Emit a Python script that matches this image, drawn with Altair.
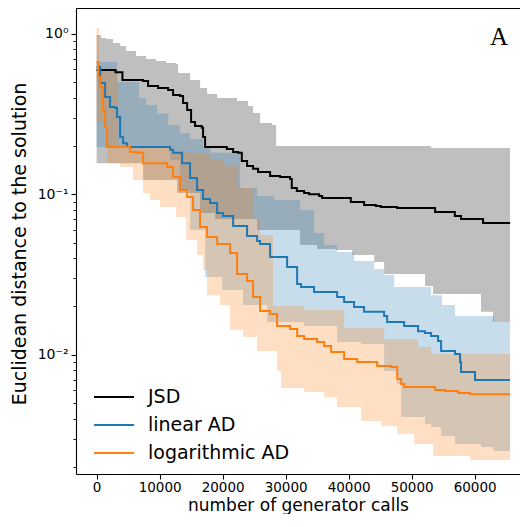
import altair as alt
import pandas as pd

METHODS = ["JSD", "linear AD", "logarithmic AD"]
LINE_COLORS = ["#000000", "#1f77b4", "#ff7f0e"]
BAND_COLORS = ["#808080", "#1f77b4", "#ff7f0e"]
BAND_OPACITY = [0.5, 0.25, 0.25]

X_TICKS = [0, 10000, 20000, 30000, 40000, 50000, 60000]
Y_MAJOR = [0.01, 0.1, 1]
Y_MINOR = [0.002, 0.003, 0.004, 0.005, 0.006, 0.007, 0.008, 0.009,
           0.02, 0.03, 0.04, 0.05, 0.06, 0.07, 0.08, 0.09,
           0.2, 0.3, 0.4, 0.5, 0.6, 0.7, 0.8, 0.9]

# ---- JSD ----
JSD_MED_X = [0, 3000, 4100, 7380, 8170, 9760, 11350, 12140, 13250, 13730,
             14370, 15000, 15630, 16700, 16900, 17220, 20670, 21670, 22460, 23050,
             23890, 24840, 25630, 27540, 29120, 30710, 30980, 31780, 32940, 33730,
             35320, 35800, 40350, 42460, 44320, 45120, 47710, 53730, 56860, 57850,
             61340, 65630]
JSD_MED_Y = [0.594, 0.575, 0.515, 0.507, 0.472, 0.459, 0.446, 0.415, 0.409, 0.370,
             0.335, 0.282, 0.266, 0.259, 0.227, 0.197, 0.191, 0.183, 0.181, 0.161,
             0.150, 0.144, 0.1375, 0.130, 0.128, 0.1245, 0.1093, 0.1047, 0.1017, 0.100,
             0.0975, 0.0947, 0.0894, 0.0857, 0.0844, 0.0832, 0.0820, 0.0775, 0.0732, 0.0701,
             0.0662, 0.0662]
JSD_HI_X = [0, 710, 1510, 2620, 3730, 4680, 6270, 7860, 9440, 11030,
            12620, 12940, 14840, 16430, 17540, 19130, 22300, 24050, 24840, 25950,
            27860, 28490, 53090, 65630]
JSD_HI_Y = [0.981, 0.940, 0.927, 0.875, 0.838, 0.780, 0.726, 0.696, 0.676, 0.657,
            0.647, 0.569, 0.515, 0.459, 0.421, 0.397, 0.381, 0.354, 0.321, 0.278,
            0.270, 0.200, 0.194, 0.194]
JSD_LO_X = [0, 7380, 12780, 16430, 18810, 25480, 32300, 35000, 38020, 40600,
            44050, 45640, 52140, 53410, 61020, 62930, 65630]
JSD_LO_Y = [0.156, 0.1226, 0.1017, 0.0764, 0.0701, 0.0598, 0.0483, 0.0456, 0.0449, 0.0418,
            0.0378, 0.0318, 0.0268, 0.0239, 0.0185, 0.0160, 0.0160]

# ---- linear AD ----
LIN_MED_X = [0, 560, 1350, 2140, 2940, 3250, 3730, 4210, 4840, 11670,
             12140, 13570, 14840, 15950, 16900, 18020, 19130, 20080, 21670, 23890,
             25480, 25950, 27540, 30240, 31830, 32460, 34520, 38180, 39290, 40870,
             42460, 45640, 46120, 48820, 51030, 52140, 53090, 54200, 54680, 56900,
             57690, 57850, 60070, 65630]
LIN_MED_Y = [0.620, 0.493, 0.403, 0.349, 0.344, 0.303, 0.227, 0.208, 0.197, 0.189,
             0.181, 0.156, 0.126, 0.1062, 0.0933, 0.0881, 0.0764, 0.0732, 0.0634, 0.0549,
             0.0511, 0.0490, 0.0406, 0.0352, 0.0276, 0.0264, 0.0246, 0.0229, 0.0213, 0.0198,
             0.0185, 0.0174, 0.0160, 0.0151, 0.0140, 0.01365, 0.01307, 0.01217, 0.01054, 0.0101,
             0.0090, 0.0078, 0.00695, 0.00695]
LIN_HI_X = [0, 3250, 6750, 7860, 9600, 11350, 13250, 14840, 16900, 18020,
            22780, 25480, 28170, 32300, 34520, 36120, 38180, 40870, 44050, 45640,
            47230, 53090, 54830, 56900, 63090, 65630]
LIN_HI_Y = [0.666, 0.500, 0.397, 0.360, 0.317, 0.270, 0.240, 0.221, 0.197, 0.181,
            0.1093, 0.0975, 0.0920, 0.0797, 0.0573, 0.0483, 0.0436, 0.0384, 0.0342, 0.0314,
            0.0264, 0.0235, 0.0204, 0.0174, 0.0160, 0.0160]
LIN_LO_X = [0, 11670, 13250, 14840, 17220, 19920, 23250, 27070, 32940, 38180,
            41990, 45640, 47710, 48340, 52140, 53090, 54680, 56900, 61020, 62930,
            65630]
LIN_LO_Y = [0.197, 0.163, 0.1062, 0.0598, 0.0305, 0.0253, 0.0204, 0.0160, 0.0151, 0.0120,
            0.01166, 0.00791, 0.00656, 0.00409, 0.00370, 0.00354, 0.00311, 0.00278, 0.00266, 0.00251,
            0.00251]

# ---- logarithmic AD ----
LOG_MED_X = [0, 240, 560, 1030, 1350, 1670, 5320, 6430, 7380, 11190,
             12140, 13250, 14370, 15320, 16430, 17540, 19130, 21190, 22300, 23890,
             24840, 25950, 27540, 28650, 30710, 31830, 32940, 35000, 36120, 37230,
             39290, 41350, 44530, 46750, 47710, 48340, 48820, 53730, 55320, 57380,
             59280, 65630]
LOG_MED_Y = [0.666, 0.537, 0.466, 0.335, 0.262, 0.197, 0.183, 0.181, 0.156, 0.148,
             0.128, 0.1062, 0.0961, 0.0797, 0.0625, 0.0541, 0.0490, 0.0430, 0.0318, 0.0288,
             0.0229, 0.0187, 0.0179, 0.0151, 0.01445, 0.01307, 0.01253, 0.0120, 0.01133, 0.0104,
             0.0094, 0.0090, 0.0085, 0.00838, 0.00705, 0.00656, 0.00629, 0.00602, 0.00594, 0.00577,
             0.00568, 0.00568]
LOG_HI_X = [0, 400, 3410, 12140, 14840, 18020, 20080, 22460, 24840, 25950,
            28010, 32940, 39290, 45640, 51030, 53090, 65630]
LOG_HI_Y = [1.085, 0.603, 0.197, 0.183, 0.178, 0.166, 0.150, 0.1093, 0.0701, 0.0557,
            0.0201, 0.0190, 0.0147, 0.01253, 0.01117, 0.0101, 0.0101]
LOG_LO_X = [0, 1670, 3730, 5790, 7380, 8490, 10080, 12620, 14210, 15950,
            16900, 17540, 19600, 21190, 23250, 25480, 28650, 29290, 32940, 36120,
            38180, 41990, 45160, 47710, 50410, 53410, 59280, 65630]
LOG_LO_Y = [0.282, 0.156, 0.148, 0.1226, 0.1017, 0.0920, 0.0832, 0.0721, 0.0518, 0.0418,
            0.0337, 0.0235, 0.0204, 0.01425, 0.01289, 0.01054, 0.00791, 0.0062, 0.00585, 0.00544,
            0.00472, 0.00386, 0.00359, 0.00321, 0.00278, 0.00234, 0.00221, 0.00221]


def band_frame(lo_x, lo_y, hi_x, hi_y):
    xs = sorted(set(lo_x) | set(hi_x))
    lo = pd.Series(lo_y, index=lo_x).reindex(xs).ffill()
    hi = pd.Series(hi_y, index=hi_x).reindex(xs).ffill()
    return pd.DataFrame({"x": xs, "lo": lo.values, "hi": hi.values})


bands = [band_frame(JSD_LO_X, JSD_LO_Y, JSD_HI_X, JSD_HI_Y),
         band_frame(LIN_LO_X, LIN_LO_Y, LIN_HI_X, LIN_HI_Y),
         band_frame(LOG_LO_X, LOG_LO_Y, LOG_HI_X, LOG_HI_Y)]

lines = pd.concat([
    pd.DataFrame({"x": JSD_MED_X, "y": JSD_MED_Y, "method": METHODS[0]}),
    pd.DataFrame({"x": LIN_MED_X, "y": LIN_MED_Y, "method": METHODS[1]}),
    pd.DataFrame({"x": LOG_MED_X, "y": LOG_MED_Y, "method": METHODS[2]}),
], ignore_index=True)

FONT = "DejaVu Sans"
xscale = alt.Scale(domain=[-3270, 67206], nice=False, zero=False)
yscale = alt.Scale(type="log", domain=[0.001806, 1.446], nice=False)

x_axis = alt.Axis(values=X_TICKS, format="d", grid=False, labelFont=FONT, labelFontSize=13.5,
                  labelColor="black", tickColor="black", tickSize=5, tickWidth=1.1,
                  domainColor="black", domainWidth=1.1, labelPadding=1, labelFlush=False,
                  titleFont=FONT, titleFontSize=17, titleFontWeight="normal", titleColor="black",
                  titleBaseline="alphabetic", titleY=36)
y_axis = alt.Axis(values=Y_MAJOR, grid=False, labelFont=FONT, labelFontSize=14,
                  labelColor="black", tickColor="black", tickSize=5, tickWidth=1.1,
                  domainColor="black", domainWidth=1.1, labelPadding=3,
                  labelExpr="datum.value >= 0.5 ? '10⁰' : (datum.value >= 0.05 ? '10⁻¹' : '10⁻²')",
                  titleFont=FONT, titleFontSize=19, titleFontWeight="normal", titleColor="black",
                  titleBaseline="alphabetic", titleX=-51, titleY=235.5)
top_axis = alt.Axis(orient="top", ticks=False, labels=False, grid=False, title=None,
                    domainColor="black", domainWidth=1.1)
minor_axis = alt.Axis(orient="left", values=Y_MINOR, labels=False, grid=False, title=None,
                      domain=False, tickColor="black", tickSize=3, tickWidth=0.9)

layers = []
for i, b in enumerate(bands):
    if i == 0:
        xe = alt.X("x:Q", scale=xscale, axis=x_axis, title="number of generator calls")
        ye = alt.Y("lo:Q", scale=yscale, axis=y_axis, title="Euclidean distance to the solution")
    else:
        xe = alt.X("x:Q", scale=xscale, axis=None)
        ye = alt.Y("lo:Q", scale=yscale, axis=None)
    layers.append(
        alt.Chart(b).mark_area(interpolate="step-after", color=BAND_COLORS[i],
                               opacity=BAND_OPACITY[i]).encode(x=xe, y=ye, y2="hi:Q")
    )

line_layer = alt.Chart(lines).mark_line(interpolate="step-after", strokeWidth=2).encode(
    x=alt.X("x:Q", scale=xscale, axis=top_axis),
    y=alt.Y("y:Q", scale=yscale, axis=minor_axis),
    color=alt.Color("method:N", scale=alt.Scale(domain=METHODS, range=LINE_COLORS),
                    legend=alt.Legend(title=None, orient="none", legendX=17, legendY=375,
                                      symbolType="stroke", symbolSize=1600, symbolStrokeWidth=2,
                                      labelFont=FONT, labelFontSize=19, labelColor="black",
                                      labelOffset=13, rowPadding=0, clipHeight=28, padding=0)),
)
layers.append(line_layer)

chart = alt.layer(*layers).resolve_axis(x="independent", y="independent").properties(
    width=444, height=466,
    autosize=alt.AutoSizeParams(type="none"),
    padding={"left": 68, "top": 0, "right": 0, "bottom": 40},
    title=alt.TitleParams("A", anchor="end", orient="top", offset=-62, dx=-12, dy=0,
                          font="Liberation Serif", fontSize=25, fontWeight="normal",
                          color="black", baseline="alphabetic"),
).configure_view(stroke="transparent")

chart.save("out.html", embed_options={"renderer": "svg", "actions": False})
